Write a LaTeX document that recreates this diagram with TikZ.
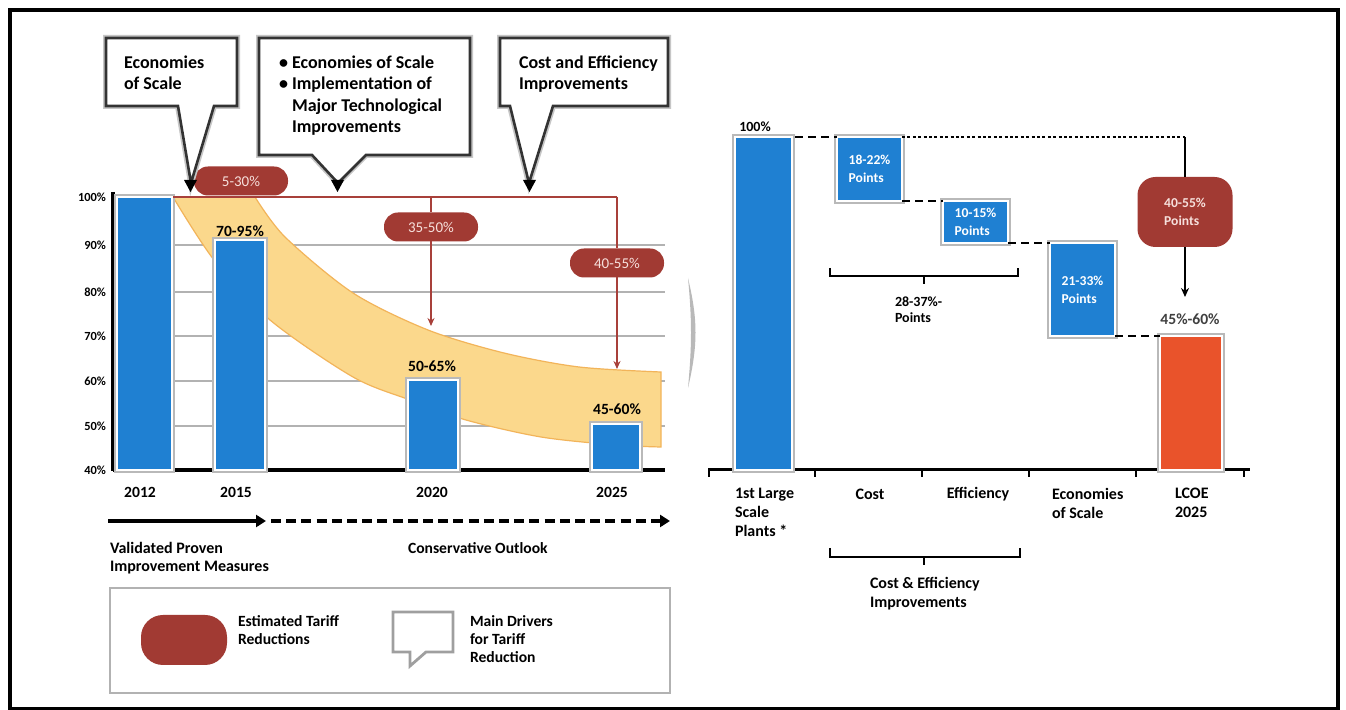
\documentclass[tikz,border=0pt]{standalone}
\usepackage{fontspec}
\setmainfont{Carlito}
\usetikzlibrary{arrows.meta}
\definecolor{barblue}{HTML}{1F80D2}
\definecolor{pillred}{HTML}{A13A33}
\definecolor{bandfill}{HTML}{FBD88C}
\definecolor{bandline}{HTML}{F2B45A}
\definecolor{lcoe}{HTML}{E9532B}
\definecolor{redl}{HTML}{A8403A}
\definecolor{pilltxt}{HTML}{F6E0DC}
\begin{document}
\begin{tikzpicture}[x=0.5pt,y=-0.5pt,
  every node/.style={inner sep=0pt, outer sep=0pt},
  co/.style={font=\bfseries\fontsize{9}{10.6}\selectfont, align=left, anchor=north west},
  lbl/.style={font=\bfseries\fontsize{7.8}{9}\selectfont, align=left},
  ylab/.style={font=\bfseries\fontsize{6.2}{7}\selectfont, anchor=east},
  bar/.style={fill=barblue, draw=white, line width=0.8pt, preaction={draw=gray!55, line width=2.6pt}},
  pill/.style={fill=pillred, rounded corners=7pt, minimum width=47pt, minimum height=14.5pt, text=pilltxt, font=\fontsize{7.5}{8}\selectfont},
  callout/.style={fill=white, draw=black!80, line width=1.3pt, preaction={draw=gray!45, line width=3pt}},
  redline/.style={draw=redl, line width=0.9pt},
  redarrow/.style={redline, -{Stealth[length=4pt,width=3.5pt]}},
  dashcon/.style={line width=1.4pt, dash pattern=on 4pt off 2.5pt},
  dotcon/.style={line width=1.1pt, dash pattern=on 1.5pt off 1.2pt},
  brace/.style={line width=1.2pt},
  bluebox/.style={fill=barblue, draw=white, line width=0.8pt, preaction={draw=gray!55, line width=2.6pt}, text=white, font=\bfseries\fontsize{6.8}{9}\selectfont, align=left}]
\useasboundingbox (0,0) rectangle (1346,710);
\fill[white] (0,0) rectangle (1346,710);
\draw[line width=2pt] (10,10) rectangle (1338,709);

% ---------------- left chart ----------------
% grid
\foreach \yy in {245,292,336,381,426}
  \draw[gray!60, line width=0.9pt] (172,\yy) -- (665,\yy);
% band
\filldraw[fill=bandfill, draw=bandline, line width=0.6pt]
  plot[smooth] coordinates {(255,197)(285,237)(353,293)(428,330)(504,353)(579,367)(661,372)}
  -- plot[smooth] coordinates {(661,447)(616,445)(541,437)(466,420)(410,400)(353,377)(270,320)(214,260)(173,197)}
  -- cycle;
% axes
\draw[line width=1.6pt] (113,192) -- (113,471);
\draw[line width=1.6pt] (113,470) -- (665,470);
\node[ylab] (y100) at (106,197) {100\%};
\node[ylab] (y90) at (106,245) {90\%};
\node[ylab] (y80) at (106,292) {80\%};
\node[ylab] (y70) at (106,336) {70\%};
\node[ylab] (y60) at (106,381) {60\%};
\node[ylab] (y50) at (106,426) {50\%};
\node[ylab] (y40) at (106,470) {40\%};
% bars
\node[bar, minimum width=27.5pt, minimum height=136.5pt] (b2012) at (144.5,333.5) {};
\node[bar, minimum width=25pt, minimum height=115pt] (b2015) at (240,355) {};
\node[bar, minimum width=25pt, minimum height=45pt] (b2020) at (433,425) {};
\node[bar, minimum width=24pt, minimum height=23pt] (b2025) at (616,447) {};
\node[lbl] (l2015) at (240,231) {70-95\%};
\node[lbl] (l2020) at (432,366) {50-65\%};
\node[lbl] (l2025) at (617,409) {45-60\%};
% years
\node[lbl] (yr12) at (140,492) {2012};
\node[lbl] (yr15) at (236,492) {2015};
\node[lbl] (yr20) at (432,492) {2020};
\node[lbl] (yr25) at (612,492) {2025};
% red reduction lines
\coordinate (h0) at (173,197);
\coordinate (h20) at (431,197);
\coordinate (h25) at (617,197);
\coordinate (a20) at (431,326);
\coordinate (a25) at (617,369);
\node[pill] (p3550) at (431,227) {35-50\%};
\node[pill] (p4055) at (617,263) {40-55\%};
\draw[redline] (h0) -- (h25);
\draw[redline] (h20) -- (p3550.north);
\draw[redline] (h25) -- (p4055.north);
\draw[redarrow] (p3550.south) -- (a20);
\draw[redarrow] (p4055.south) -- (a25);
\node[pill] (p530) at (241,181) {5-30\%};
% callouts
\draw[callout] (106,38) -- (237,38) -- (237,106) -- (214,106) -- (191,183) -- (178,106) -- (106,106) -- cycle;
\draw[callout] (259,38) -- (470,38) -- (470,155) -- (366,155) -- (338,183) -- (312,155) -- (259,155) -- cycle;
\draw[callout] (500,38) -- (668,38) -- (668,106) -- (553,106) -- (529,183) -- (510,106) -- (500,106) -- cycle;
\fill (184,180) -- (197,180) -- (190.5,192) -- cycle;
\fill (331,180) -- (344,180) -- (337.5,192) -- cycle;
\fill (523,180) -- (536,180) -- (529.5,192) -- cycle;
\node[co] (t1) at (124,56) {Economies\\of Scale};
\node[co] (t2) at (279,56) {\textbullet\ Economies of Scale\\\textbullet\ Implementation of\\\hphantom{\textbullet\ }Major Technological\\\hphantom{\textbullet\ }Improvements};
\node[co] (t3) at (519,56) {Cost and Efficiency\\Improvements};
% timeline
\coordinate (tl0) at (108,521);
\coordinate (tl1) at (266,521);
\coordinate (tl2) at (271,521);
\coordinate (tl3) at (670,521);
\draw[line width=2.4pt, -{Triangle[length=5pt,width=6pt]}] (tl0) -- (tl1);
\draw[line width=2.4pt, dash pattern=on 5pt off 2.6pt, -{Triangle[length=5pt,width=6pt]}] (tl2) -- (tl3);
\node[lbl, anchor=north west, font=\bfseries\fontsize{8}{9}\selectfont] (val) at (110,542) {Validated Proven\\Improvement Measures};
\node[lbl, anchor=west, font=\bfseries\fontsize{7.8}{9}\selectfont] (cons) at (408,548) {Conservative Outlook};
% legend
\draw[gray!60, line width=1.4pt] (110,588) rectangle (670,693);
\fill[pillred, rounded corners=11pt] (141,615) rectangle (227,665);
\draw[gray!75, line width=1.4pt, line join=miter] (393,612) -- (453,612) -- (453,652) -- (426,652) -- (410,666) -- (410,652) -- (393,652) -- cycle;
\node[lbl, anchor=north west] (lg1) at (238,616) {Estimated Tariff\\Reductions};
\node[lbl, anchor=north west] (lg2) at (470,616) {Main Drivers\\for Tariff\\Reduction};

% separator
\fill[gray!55] (688,278) .. controls (698,320) and (698,345) .. (688,388) .. controls (692,345) and (692,320) .. (688,278);

% ---------------- right chart ----------------
\draw[line width=1.5pt] (708,470) -- (1250,470);
\foreach \xx in {709,815,922,1029,1136,1244}
  \draw[line width=1.2pt] (\xx,470) -- (\xx,477);
\node[bluebox, minimum width=28.5pt, minimum height=166.5pt] (P100) at (763.5,303.5) {};
\node[bluebox, minimum width=32.5pt, minimum height=32pt] (B1) at (869.5,169) {18-22\%\\Points};
\node[bluebox, minimum width=32.5pt, minimum height=21pt] (B2) at (975.5,222) {10-15\%\\Points};
\node[bluebox, minimum width=32.5pt, minimum height=46.5pt] (B3) at (1082.5,289.5) {21-33\%\\Points};
\node[fill=lcoe, draw=white, line width=0.8pt, preaction={draw=gray!55, line width=2.6pt}, minimum width=31pt, minimum height=67pt] (LCOE) at (1191,403) {};
\node[fill=pillred, rounded corners=9pt, minimum width=47.5pt, minimum height=35pt, text=pilltxt, font=\bfseries\fontsize{6.8}{9}\selectfont, align=left] (R) at (1185,212) {40-55\%\\Points};
\node[lbl, font=\bfseries\fontsize{7}{9}\selectfont] (l100) at (755,127) {100\%};
\node[lbl, text=black!75] (l4560) at (1190,319) {45\%-60\%};
\coordinate (c137) at (1185,137);
\coordinate (c297) at (1185,297);
\draw[dashcon] (P100.north east) ++(3,0) -- (B1.north west);
\draw[dotcon] (B1.north east) -- (c137);
\draw[line width=1.3pt] (c137) -- (R.north);
\draw[line width=1.3pt, -{Stealth[length=4.5pt,width=4pt]}] (R.south) -- (c297);
\draw[dashcon] (B1.south east) -- (B2.north west);
\draw[dashcon] (B2.south east) -- (B3.north west);
\draw[dashcon] (B3.south east) -- (LCOE.north west);
% braces
\draw[brace] (830,268) -- (830,276) -- (1018,276) -- (1018,268);
\draw[brace] (924,276) -- (924,284);
\node[lbl, anchor=north west, font=\bfseries\fontsize{7}{8}\selectfont] (pts) at (895,297) {28-37\%-\\Points};
\draw[brace] (830,548) -- (830,557) -- (1020,557) -- (1020,548);
\draw[brace] (924,557) -- (924,565);
\node[lbl, anchor=north west, font=\bfseries\fontsize{8}{9.5}\selectfont] (ce) at (870,577) {Cost \& Efficiency\\Improvements};
% x labels
\node[lbl, anchor=north west, font=\bfseries\fontsize{8}{9.5}\selectfont] (x1) at (735,488) {1st Large\\Scale\\Plants *};
\node[lbl, font=\bfseries\fontsize{8}{9.5}\selectfont] (x2) at (870,494) {Cost};
\node[lbl, font=\bfseries\fontsize{8}{9.5}\selectfont] (x3) at (978,494) {Efficiency};
\node[lbl, anchor=north west, font=\bfseries\fontsize{8}{9.5}\selectfont] (x4) at (1052,488) {Economies\\of Scale};
\node[lbl, anchor=north west, font=\bfseries\fontsize{8}{9.5}\selectfont] (x5) at (1175,488) {LCOE\\2025};
\end{tikzpicture}
\end{document}
